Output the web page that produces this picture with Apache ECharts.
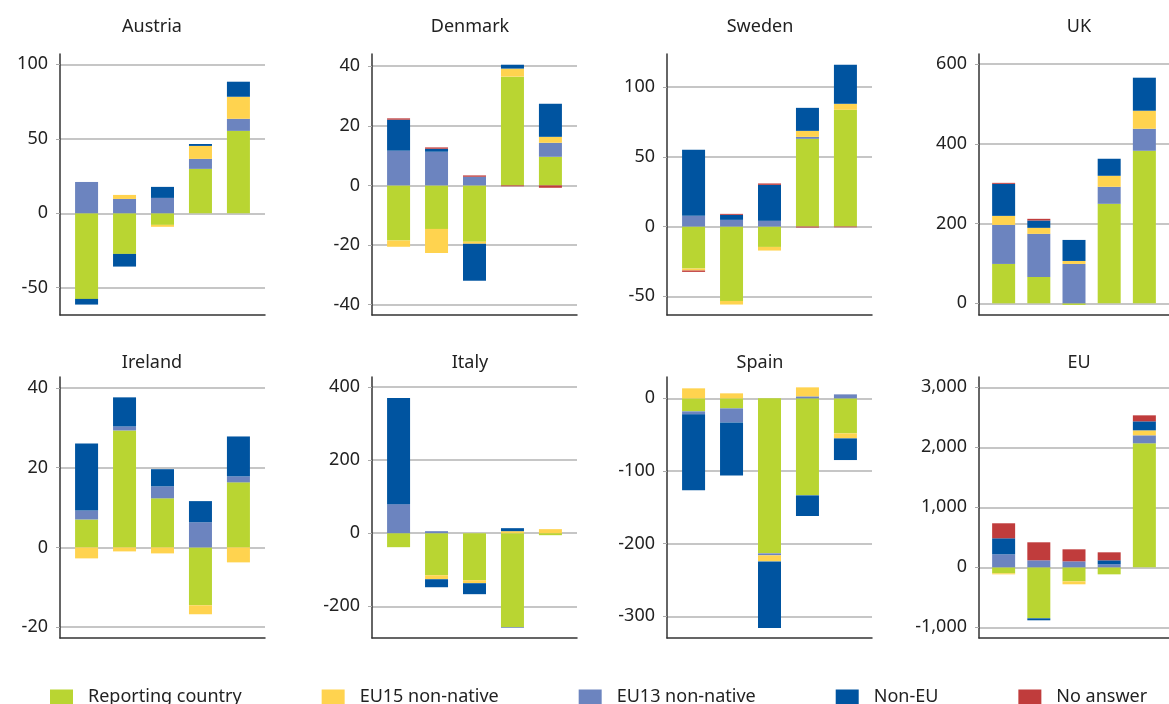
<!DOCTYPE html>
<html>
<head>
<meta charset="utf-8">
<script src="https://cdn.jsdelivr.net/npm/echarts@6/dist/echarts.min.js"></script>
<style>
  html, body { margin: 0; padding: 0; background: #fff; }
  #chart { width: 1169px; height: 704px; }
</style>
</head>
<body>
<div id="chart"></div>
<script>
// one row per panel, five bars each (left to right)
const countries = ['Austria', 'Denmark', 'Sweden', 'UK', 'Ireland', 'Italy', 'Spain', 'EU'];

const reporting = [
  [-57.5, -27.3, -7.8, 29.8, 55.3],
  [-18.5, -14.6, -18.9, 36.5, 9.6],
  [-30.1, -53.3, -14.6, 62.9, 83.7],
  [98.7, 66.1, -4, 249.4, 382.4],
  [7.0, 29.3, 12.3, -14.5, 16.3],
  [-38.3, -115, -128.6, -257, -5.5],
  [-17.9, -13.8, -213.3, -133.5, -48.2],
  [-100, -850, -233, -117, 2067],
];
const eu13 = [
  [21, 9.6, 10.3, 6.7, 8.1],
  [11.65, 11.3, 2.9, 0, 4.7],
  [7.7, 4.8, 4.1, 1.4, 0],
  [97.9, 108, 98.7, 42.7, 55.2],
  [2.25, 1.0, 3.0, 6.3, 1.5],
  [79.3, 5.5, 0, -2, 0],
  [-4.1, -19.3, -2.75, 2.75, 5.5],
  [217, 117, 100, 50, 133],
];
const eu15 = [
  [0, 2.7, -1.3, 8.7, 14.8],
  [-2.1, -8.1, -0.7, 2.7, 2.0],
  [-1.4, -2.6, -2.6, 4.3, 4.3],
  [22.6, 15.1, 7.5, 27.6, 45.2],
  [-2.75, -1.0, -1.5, -2.25, -3.75],
  [0, -10.9, -8.2, 5.5, 11],
  [13.8, 6.9, -8.3, 12.4, -6.9],
  [-17, 0, -50, 0, 83],
];
const nonEu = [
  [-3.8, -8.5, 7.4, 1.3, 10.1],
  [10.4, 1.0, -12.4, 1.3, 11.1],
  [47.4, 3.6, 25.8, 16.5, 28],
  [80.3, 18.4, 52.7, 42.7, 82.8],
  [16.8, 7.3, 4.3, 5.3, 10.0],
  [290, -21.9, -30, 8.2, 0],
  [-104.6, -72.9, -91.7, -28.4, -29.8],
  [267, -33, 0, 67, 150],
];
const noAnswer = [
  [0, 0, 0, 0, 0],
  [0.45, 0.45, 0.45, -0.3, -0.8],
  [-1.0, 0.7, 1.0, -0.7, -0.5],
  [2.5, 4.2, 0, 0, 0],
  [0, 0, 0, 0, 0],
  [0, 0, 0, 0, 0],
  [0, 0, 0, 0, 0],
  [250, 300, 200, 133, 100],
];

const axisMin = [-68.3, -43.5, -63.4, -29.3, -22.7, -286.6, -329.8, -1178];
const axisMax = [106.9, 44.1, 123.7, 625, 42.7, 427, 29.4, 3172];
const tickValues = [
  [-50, 0, 50, 100],
  [-40, -20, 0, 20, 40],
  [-50, 0, 50, 100],
  [0, 200, 400, 600],
  [-20, 0, 20, 40],
  [-200, 0, 200, 400],
  [-300, -200, -100, 0],
  [-1000, 0, 1000, 2000, 3000],
];

// stacking order (bottom up) and legend order differ
const seriesDefs = [
  { name: 'Reporting country', data: reporting, color: '#b9d532' },
  { name: 'EU13 non-native', data: eu13, color: '#6c84bf' },
  { name: 'EU15 non-native', data: eu15, color: '#ffd34f' },
  { name: 'Non-EU', data: nonEu, color: '#0054a0' },
  { name: 'No answer', data: noAnswer, color: '#c03c3c' },
];
const legendOrder = ['Reporting country', 'EU15 non-native', 'EU13 non-native', 'Non-EU', 'No answer'];

const colLeft = [60, 372, 667, 979];
const titleX = [152, 470, 760, 1079];
const rowTop = [54, 377];
const titleTop = [18, 354];
const plotW = 205;
const plotH = 261;
const font = 'Noto Sans';

const grids = [], xAxes = [], yAxes = [], titles = [], series = [];

countries.forEach((name, i) => {
  const col = i % 4;
  const row = Math.floor(i / 4);
  grids.push({ left: colLeft[col], top: rowTop[row], width: plotW, height: plotH });
  titles.push({
    text: name,
    left: titleX[col],
    top: titleTop[row],
    padding: 0,
    textAlign: 'center',
    textStyle: { fontFamily: font, fontSize: 18, fontWeight: 'normal', color: '#222' },
  });
  xAxes.push({
    type: 'value',
    gridIndex: i,
    min: -0.7,
    max: 4.7,
    axisLine: { onZero: false, lineStyle: { color: '#333', width: 1.5 } },
    axisTick: { show: false },
    axisLabel: { show: false },
    splitLine: { show: false },
  });
  yAxes.push({
    type: 'value',
    gridIndex: i,
    min: axisMin[i],
    max: axisMax[i],
    axisLine: { show: true, onZero: false, lineStyle: { color: '#333', width: 1.5 } },
    axisTick: { show: true, length: 4, customValues: tickValues[i], lineStyle: { color: '#aaa' } },
    axisLabel: {
      customValues: tickValues[i],
      margin: 12,
      fontFamily: font,
      fontSize: 18,
      color: '#222',
      formatter: (v) => Number(v).toLocaleString('en-US'),
    },
    splitLine: { show: true, lineStyle: { color: '#b3b3b3', width: 1.5 } },
  });
  seriesDefs.forEach((s) => {
    series.push({
      name: s.name,
      type: 'bar',
      xAxisIndex: i,
      yAxisIndex: i,
      stack: 'total' + i,
      barWidth: 23,
      itemStyle: { color: s.color },
      encode: { x: 1, y: 0 },
      data: s.data[i].map((v, k) => [v, k]),
    });
  });
});

const chart = echarts.init(document.getElementById('chart'));
chart.setOption({
  animation: false,
  backgroundColor: '#fff',
  title: titles,
  grid: grids,
  xAxis: xAxes,
  yAxis: yAxes,
  legend: {
    data: legendOrder,
    left: 50,
    top: 688,
    padding: 0,
    icon: 'rect',
    itemWidth: 23,
    itemHeight: 15,
    itemGap: 80,
    textStyle: { fontFamily: font, fontSize: 18, color: '#222', padding: [0, 0, 0, 10] },
  },
  color: seriesDefs.map((s) => s.color),
  series,
});
</script>
</body>
</html>
